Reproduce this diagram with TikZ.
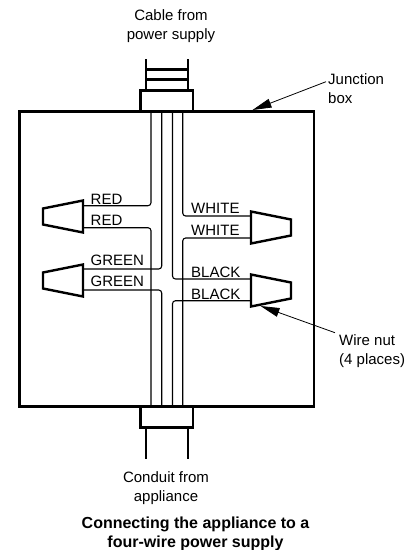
\documentclass[tikz,border=0pt]{standalone}
\usepackage{fontspec}
\setmainfont{Liberation Sans}
\usepackage{tikz}
\usetikzlibrary{arrows.meta}
\tikzset{
  wire/.style={line width=1.1pt,rounded corners=3pt},
  heavy/.style={line width=2.1pt},
  nut/.style={line width=2.4pt,line join=miter},
  lbl/.style={inner sep=0pt,font=\fontsize{15}{19}\selectfont,align=center},
  lead/.style={line width=.8pt,-{Triangle[length=19pt,width=9pt]}}
}
\begin{document}
\begin{tikzpicture}[x=1pt,y=-1pt]
  \useasboundingbox (0,0) rectangle (417,550);
  % box and fittings
  \draw[line width=2.2pt] (19.5,111.5) rectangle (314,406.5);
  \draw[heavy] (140.5,111) |- (193,90.5) -- (193,111);
  \draw[heavy] (140.5,407) |- (193,427.5) -- (193,407);
  \draw[heavy] (145.7,59) -- (145.7,90) (188,59) -- (188,90);
  \draw[heavy] (145.7,69.5) -- (188,69.5) (145.7,79.5) -- (188,79.5);
  \draw[heavy] (145.7,428) -- (145.7,459) (188,428) -- (188,459);

  % wire nuts
  \coordinate (N1) at (83,216.5);
  \coordinate (N2) at (83,280.5);
  \coordinate (N3) at (251,227.5);
  \coordinate (N4) at (251,290.5);
  \draw[nut] (N1) +(0,-16) -- +(-40,-8) -- +(-40,8) -- +(0,16) -- cycle;
  \draw[nut] (N2) +(0,-16) -- +(-40,-8) -- +(-40,8) -- +(0,16) -- cycle;
  \draw[nut] (N3) +(0,-16) -- +(40,-8) -- +(40,8) -- +(0,16) -- cycle;
  \draw[nut] (N4) +(0,-16) -- +(40,-8) -- +(40,8) -- +(0,16) -- cycle;

  % wires
  \draw[wire] (151,111) |- (N1 |- 0,205.7);
  \draw[wire] (161.7,111) |- (N2 |- 0,269);
  \draw[wire] (172.5,111) |- (N4 |- 0,279);
  \draw[wire] (182.7,111) |- (N3 |- 0,216);
  \draw[wire] (151,406) |- (N1 |- 0,227.7);
  \draw[wire] (161.7,406) |- (N2 |- 0,290);
  \draw[wire] (172.5,406) |- (N4 |- 0,300.7);
  \draw[wire] (182.7,406) |- (N3 |- 0,238);

  % wire labels
  \node[lbl,anchor=base west] (R1) at (90.5,204) {RED};
  \node[lbl,anchor=base west] (R2) at (90.5,225) {RED};
  \node[lbl,anchor=base west] (G1) at (90.5,265) {GREEN};
  \node[lbl,anchor=base west] (G2) at (90.5,286.5) {GREEN};
  \node[lbl,anchor=base west] (W1) at (191,213.5) {WHITE};
  \node[lbl,anchor=base west] (W2) at (191,235) {WHITE};
  \node[lbl,anchor=base west] (B1) at (191,277.5) {BLACK};
  \node[lbl,anchor=base west] (B2) at (191,299) {BLACK};

  % captions
  \node[lbl] (CAB) at (171,26) {Cable from\\power supply};
  \node[lbl] (CON) at (166,488) {Conduit from\\appliance};
  \node[lbl,anchor=north west,align=left] (JB) at (328,73) {Junction\\box};
  \node[lbl,anchor=north west,align=left] (WN) at (339,334) {Wire nut\\(4 places)};
  \node[lbl,font=\fontsize{16}{19}\selectfont\bfseries] (TTL) at (195.5,534) {Connecting the appliance to a\\four-wire power supply};

  % leaders
  \coordinate (JS) at (326,81.7);
  \coordinate (JT) at (252.5,110);
  \coordinate (WS) at (335,332.7);
  \coordinate (WT) at (260.5,306);
  \draw[lead] (JS) -- (JT);
  \draw[lead] (WS) -- (WT);
\end{tikzpicture}
\end{document}
